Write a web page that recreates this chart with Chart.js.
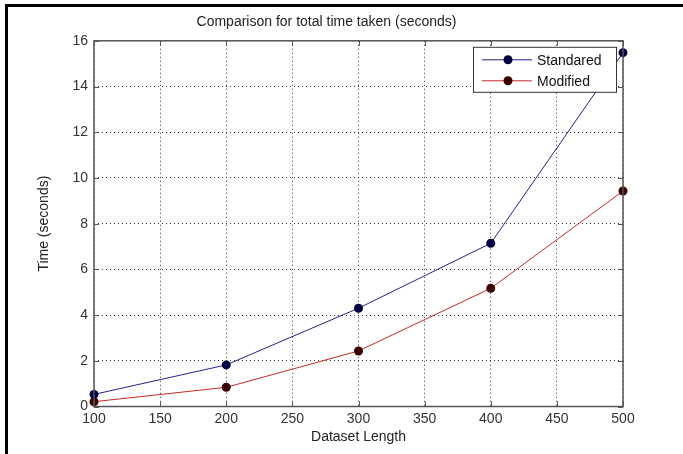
<!DOCTYPE html>
<html>
<head>
<meta charset="utf-8">
<script src="https://cdn.jsdelivr.net/npm/chart.js@4.4.0/dist/chart.umd.min.js"></script>
<style>
  html, body { margin: 0; padding: 0; background: #fff; }
  #wrap { position: relative; width: 683px; height: 454px; }
  #frame { position: absolute; left: 5px; top: 4px; right: 0; bottom: 0;
           border-left: 3px solid #000; border-top: 3px solid #000; pointer-events: none; }
</style>
</head>
<body>
<div id="wrap">
  <canvas id="lineChart" width="683" height="454"></canvas>
  <div id="frame"></div>
</div>
<script>
// values
var lengths = [100, 200, 300, 400, 500];
var standardTimes = [0.53, 1.82, 4.30, 7.14, 15.48];
var modifiedTimes = [0.21, 0.84, 2.43, 5.17, 9.43];
var seriesNames = ['Standared', 'Modified'];
var lineColors = ['#23238a', '#c42a2a'];
var markerColors = ['#000040', '#3a0000'];

var FONT = '"Liberation Sans", Arial, sans-serif';

function toPoints(ys) {
    return lengths.map(function (x, i) { return { x: x, y: ys[i] }; });
}

// box round the plot, inward tick marks, boxed legend
var matlabLook = {
    id: 'matlabLook',
    afterDatasetsDraw: function (chart) {
        var c = chart.ctx, a = chart.chartArea;
        var xs = chart.scales.x, ys = chart.scales.y;
        c.save();
        c.strokeStyle = '#555';
        c.lineWidth = 1.5;
        c.strokeRect(a.left, a.top, a.right - a.left, a.bottom - a.top);
        c.lineWidth = 1;
        xs.ticks.forEach(function (t) {
            var px = Math.round(xs.getPixelForValue(t.value)) + 0.5;
            c.beginPath();
            c.moveTo(px, a.bottom); c.lineTo(px, a.bottom - 5);
            c.moveTo(px, a.top); c.lineTo(px, a.top + 5);
            c.stroke();
        });
        ys.ticks.forEach(function (t) {
            var py = Math.round(ys.getPixelForValue(t.value)) + 0.5;
            c.beginPath();
            c.moveTo(a.left, py); c.lineTo(a.left + 5, py);
            c.moveTo(a.right, py); c.lineTo(a.right - 5, py);
            c.stroke();
        });

        // legend
        var bw = 143, bh = 45;
        var bx = a.right - 7 - bw, by = a.top + 6;
        c.fillStyle = '#fff';
        c.fillRect(bx, by, bw, bh);
        c.strokeStyle = '#333';
        c.lineWidth = 1;
        c.strokeRect(bx + 0.5, by + 0.5, bw, bh);
        c.font = '14px ' + FONT;
        c.textBaseline = 'middle';
        chart.data.datasets.forEach(function (ds, i) {
            var ly = by + 13 + i * 21;
            c.strokeStyle = ds.borderColor;
            c.beginPath();
            c.moveTo(bx + 9, ly); c.lineTo(bx + 59, ly);
            c.stroke();
            c.fillStyle = ds.pointBackgroundColor;
            c.beginPath();
            c.arc(bx + 35, ly, 4.5, 0, Math.PI * 2);
            c.fill();
            c.fillStyle = '#111';
            c.fillText(ds.label, bx + 64, ly + 1);
        });
        c.restore();
    }
};

var ctx = document.getElementById('lineChart').getContext('2d');
var myChart = new Chart(ctx, {
    type: 'line',
    data: {
        datasets: [standardTimes, modifiedTimes].map(function (ys, i) {
            return {
                label: seriesNames[i],
                data: toPoints(ys),
                borderColor: lineColors[i],
                borderWidth: 1,
                pointRadius: 4.5,
                pointBackgroundColor: markerColors[i],
                pointBorderColor: markerColors[i],
                pointBorderWidth: 0,
                tension: 0,
                clip: false
            };
        })
    },
    options: {
        responsive: false,
        animation: false,
        events: [],
        layout: { padding: { left: 30, right: 60, top: 14, bottom: 8 } },
        plugins: {
            legend: { display: false },
            tooltip: { enabled: false },
            title: {
                display: true,
                text: 'Comparison for total time taken (seconds)',
                color: '#222',
                font: { family: FONT, size: 14, weight: 'normal' },
                padding: { top: 0, bottom: 10 }
            }
        },
        scales: {
            x: {
                type: 'linear',
                min: 100,
                max: 500,
                ticks: { stepSize: 50, color: '#333', padding: 4,
                         font: { family: FONT, size: 14 }, maxRotation: 0 },
                grid: { color: '#333', lineWidth: 1, drawTicks: false, tickBorderDash: [1, 3] },
                border: { display: false, dash: [1, 3] },
                title: { display: true, text: 'Dataset Length', color: '#222',
                         font: { family: FONT, size: 14 }, padding: { top: 0, bottom: 0 } },
                afterFit: function (s) { s.height = 39.5; }
            },
            y: {
                min: 0,
                max: 16,
                ticks: { stepSize: 2, color: '#333', padding: 6,
                         font: { family: FONT, size: 14 } },
                grid: { color: '#333', lineWidth: 1, drawTicks: false },
                border: { display: false, dash: [1, 3] },
                title: { display: true, text: 'Time (seconds)', color: '#222',
                         font: { family: FONT, size: 14 }, padding: { top: 6, bottom: 0 } },
                afterFit: function (s) { s.width = 64; }
            }
        }
    },
    plugins: [matlabLook]
});
</script>
</body>
</html>
